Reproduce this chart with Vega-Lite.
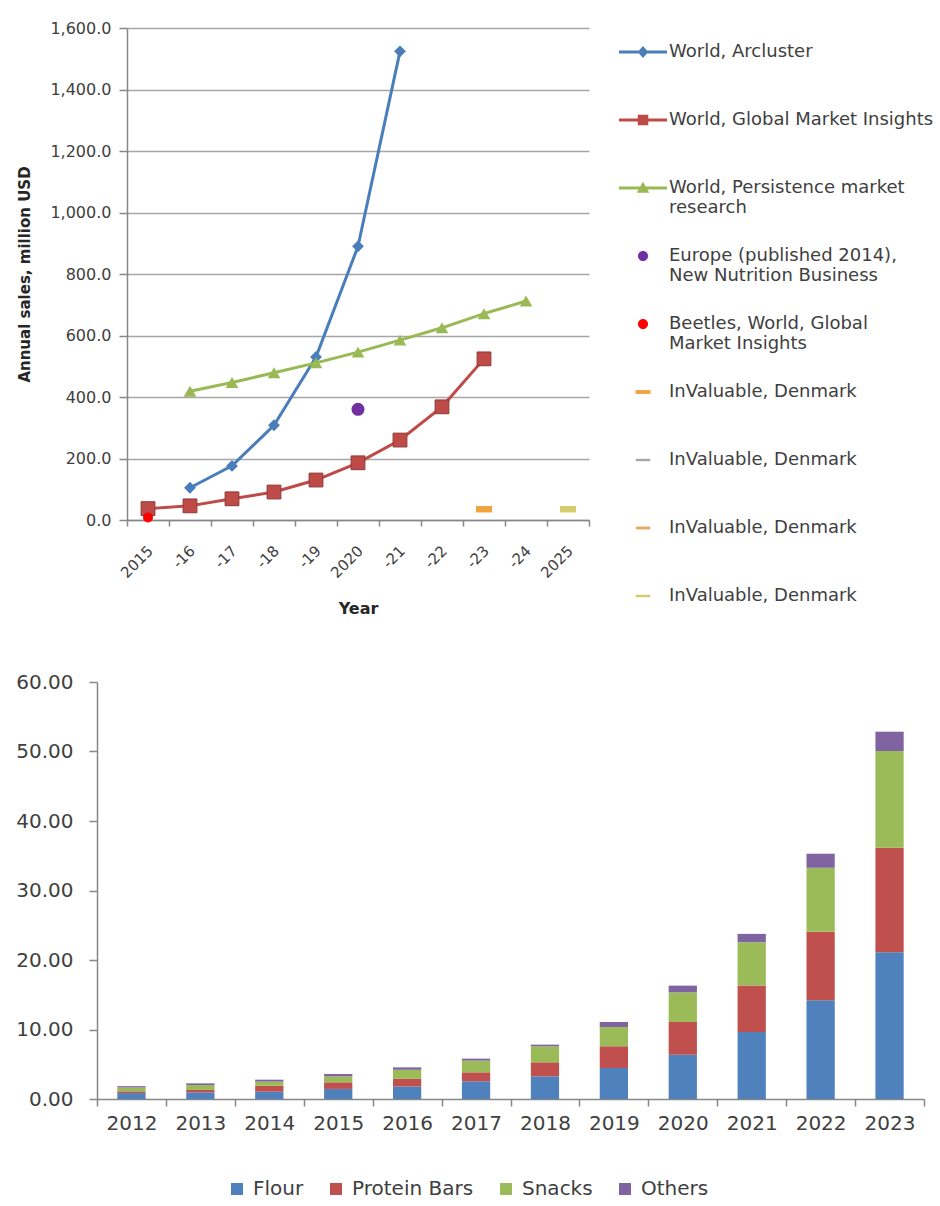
{
  "$schema": "https://vega.github.io/schema/vega-lite/v6.json",
  "padding": {"left": 15, "top": 20, "right": 5, "bottom": 5},
  "background": "white",
  "spacing": 47,
  "resolve": {
    "scale": {"color": "independent", "shape": "independent", "x": "independent", "y": "independent"},
    "legend": {"color": "independent", "shape": "independent"}
  },
  "config": {
    "font": "DejaVu Sans",
    "view": {"stroke": null},
    "axis": {"labelFont": "DejaVu Sans", "titleFont": "DejaVu Sans", "labelColor": "#404040", "titleColor": "#262626", "domainColor": "#878787", "tickColor": "#878787", "domainWidth": 1.5, "tickWidth": 1.5},
    "legend": {"labelFont": "DejaVu Sans", "labelColor": "#404040"}
  },
  "datasets": {
    "forecasts": [
      {"series": "World, Arcluster", "year": 2016, "value": 105},
      {"series": "World, Arcluster", "year": 2017, "value": 176},
      {"series": "World, Arcluster", "year": 2018, "value": 308},
      {"series": "World, Arcluster", "year": 2019, "value": 530},
      {"series": "World, Arcluster", "year": 2020, "value": 890},
      {"series": "World, Arcluster", "year": 2021, "value": 1524},
      {"series": "World, Global Market Insights", "year": 2015, "value": 37},
      {"series": "World, Global Market Insights", "year": 2016, "value": 46},
      {"series": "World, Global Market Insights", "year": 2017, "value": 69},
      {"series": "World, Global Market Insights", "year": 2018, "value": 91},
      {"series": "World, Global Market Insights", "year": 2019, "value": 130},
      {"series": "World, Global Market Insights", "year": 2020, "value": 186},
      {"series": "World, Global Market Insights", "year": 2021, "value": 260},
      {"series": "World, Global Market Insights", "year": 2022, "value": 368},
      {"series": "World, Global Market Insights", "year": 2023, "value": 524},
      {"series": "World, Persistence market research", "year": 2016, "value": 419},
      {"series": "World, Persistence market research", "year": 2017, "value": 447},
      {"series": "World, Persistence market research", "year": 2018, "value": 479},
      {"series": "World, Persistence market research", "year": 2019, "value": 511},
      {"series": "World, Persistence market research", "year": 2020, "value": 546},
      {"series": "World, Persistence market research", "year": 2021, "value": 585},
      {"series": "World, Persistence market research", "year": 2022, "value": 625},
      {"series": "World, Persistence market research", "year": 2023, "value": 671},
      {"series": "World, Persistence market research", "year": 2024, "value": 712},
      {"series": "Europe (published 2014), New Nutrition Business", "year": 2020, "value": 360},
      {"series": "Beetles, World, Global Market Insights", "year": 2015, "value": 8},
      {"series": "InValuable, Denmark", "year": 2023, "value": 35},
      {"series": "InValuable, Denmark   ", "year": 2025, "value": 35}
    ],
    "segments": [
      {"year": 2012, "product": "Flour", "value": 0.85},
      {"year": 2012, "product": "Protein Bars", "value": 0.25},
      {"year": 2012, "product": "Snacks", "value": 0.55},
      {"year": 2012, "product": "Others", "value": 0.2},
      {"year": 2013, "product": "Flour", "value": 0.95},
      {"year": 2013, "product": "Protein Bars", "value": 0.35},
      {"year": 2013, "product": "Snacks", "value": 0.7},
      {"year": 2013, "product": "Others", "value": 0.25},
      {"year": 2014, "product": "Flour", "value": 1.05},
      {"year": 2014, "product": "Protein Bars", "value": 0.85},
      {"year": 2014, "product": "Snacks", "value": 0.6},
      {"year": 2014, "product": "Others", "value": 0.28},
      {"year": 2015, "product": "Flour", "value": 1.45},
      {"year": 2015, "product": "Protein Bars", "value": 0.95},
      {"year": 2015, "product": "Snacks", "value": 0.85},
      {"year": 2015, "product": "Others", "value": 0.35},
      {"year": 2016, "product": "Flour", "value": 1.8},
      {"year": 2016, "product": "Protein Bars", "value": 1.1},
      {"year": 2016, "product": "Snacks", "value": 1.3},
      {"year": 2016, "product": "Others", "value": 0.35},
      {"year": 2017, "product": "Flour", "value": 2.54},
      {"year": 2017, "product": "Protein Bars", "value": 1.3},
      {"year": 2017, "product": "Snacks", "value": 1.68},
      {"year": 2017, "product": "Others", "value": 0.29},
      {"year": 2018, "product": "Flour", "value": 3.26},
      {"year": 2018, "product": "Protein Bars", "value": 2.02},
      {"year": 2018, "product": "Snacks", "value": 2.3},
      {"year": 2018, "product": "Others", "value": 0.24},
      {"year": 2019, "product": "Flour", "value": 4.46},
      {"year": 2019, "product": "Protein Bars", "value": 3.12},
      {"year": 2019, "product": "Snacks", "value": 2.78},
      {"year": 2019, "product": "Others", "value": 0.72},
      {"year": 2020, "product": "Flour", "value": 6.38},
      {"year": 2020, "product": "Protein Bars", "value": 4.7},
      {"year": 2020, "product": "Snacks", "value": 4.27},
      {"year": 2020, "product": "Others", "value": 0.96},
      {"year": 2021, "product": "Flour", "value": 9.65},
      {"year": 2021, "product": "Protein Bars", "value": 6.67},
      {"year": 2021, "product": "Snacks", "value": 6.24},
      {"year": 2021, "product": "Others", "value": 1.2},
      {"year": 2022, "product": "Flour", "value": 14.21},
      {"year": 2022, "product": "Protein Bars", "value": 9.84},
      {"year": 2022, "product": "Snacks", "value": 9.22},
      {"year": 2022, "product": "Others", "value": 2.02},
      {"year": 2023, "product": "Flour", "value": 21.12},
      {"year": 2023, "product": "Protein Bars", "value": 15.03},
      {"year": 2023, "product": "Snacks", "value": 13.92},
      {"year": 2023, "product": "Others", "value": 2.78}
    ]
  },
  "vconcat": [
    {
      "width": 492,
      "height": 492,
      "data": {"name": "forecasts"},
      "encoding": {
        "x": {
          "field": "year", "type": "ordinal",
          "scale": {"domain": [2015, 2016, 2017, 2018, 2019, 2020, 2021, 2022, 2023, 2024, 2025], "range": [30, 492], "paddingInner": 0, "paddingOuter": 0},
          "axis": {"title": "Year", "labelAngle": -45, "labelExpr": "isValid(datum.value) ? (datum.value % 5 == 0 ? '' + datum.value : '-' + (datum.value % 100)) : ''", "tickBand": "extent", "tickSize": 6, "labelFontSize": 15, "labelPadding": 17, "labelOffset": -3, "titleFontSize": 16, "titleFontWeight": "bold", "titlePadding": 20, "grid": false}
        },
        "y": {
          "field": "value", "type": "quantitative",
          "scale": {"domain": [0, 1600]},
          "axis": {"title": "Annual sales, million USD", "offset": -30, "values": [0, 200, 400, 600, 800, 1000, 1200, 1400, 1600], "format": ",.1f", "grid": true, "gridColor": "#A6A6A6", "gridWidth": 1.5, "tickSize": 8, "labelFontSize": 16, "labelPadding": 8, "titleFontSize": 15, "titleFontWeight": "bold", "titlePadding": 17}
        },
        "color": {"field": "series", "type": "nominal", "legend": null,
          "scale": {"domain": ["World, Arcluster", "World, Global Market Insights", "World, Persistence market research", "Europe (published 2014), New Nutrition Business", "Beetles, World, Global Market Insights", "InValuable, Denmark", "InValuable, Denmark ", "InValuable, Denmark  ", "InValuable, Denmark   "],
            "range": ["#4A7EBB", "#BE4B48", "#98B954", "#7030A0", "#FF0000", "#F0A23C", "#A5A5A5", "#E3A862", "#D6CD6A"]}}
      },
      "layer": [
        {
          "transform": [{"filter": {"field": "series", "equal": "legend only"}}],
          "mark": {"type": "point", "filled": true, "opacity": 1, "size": 2304},
          "encoding": {
            "color": {"field": "series", "type": "nominal",
              "legend": {"title": null, "orient": "right", "offset": 30, "padding": 0, "symbolSize": 2304, "symbolStrokeWidth": 0, "symbolOpacity": 1, "labelFontSize": 18, "labelLimit": 400, "labelOffset": 2, "rowPadding": 15,
                "labelExpr": "datum.value == 'World, Persistence market research' ? ['World, Persistence market', 'research'] : datum.value == 'Europe (published 2014), New Nutrition Business' ? ['Europe (published 2014),', 'New Nutrition Business'] : datum.value == 'Beetles, World, Global Market Insights' ? ['Beetles, World, Global', 'Market Insights'] : [datum.label, '']"}
            },
            "shape": {"field": "series", "type": "nominal",
              "scale": {"domain": ["World, Arcluster", "World, Global Market Insights", "World, Persistence market research", "Europe (published 2014), New Nutrition Business", "Beetles, World, Global Market Insights", "InValuable, Denmark", "InValuable, Denmark ", "InValuable, Denmark  ", "InValuable, Denmark   "],
                "range": [
                  "M-1,-1M1,1M-1,-0.06H1V0.06H-1ZM0,-0.25L0.22,0L0,0.25L-0.22,0Z",
                  "M-1,-1M1,1M-1,-0.06H1V0.06H-1ZM-0.22,-0.22H0.22V0.22H-0.22Z",
                  "M-1,-1M1,1M-1,-0.06H1V0.06H-1ZM0,-0.26L0.26,0.2H-0.26Z",
                  "M-1,-1M1,1M-0.21,0A0.21,0.21 0 1,0 0.21,0A0.21,0.21 0 1,0 -0.21,0Z",
                  "M-1,-1M1,1M-0.21,0A0.21,0.21 0 1,0 0.21,0A0.21,0.21 0 1,0 -0.21,0Z",
                  "M-1,-1M1,1M-0.31,-0.08H0.31V0.08H-0.31Z",
                  "M-1,-1M1,1M-0.3,-0.05H0.3V0.05H-0.3Z",
                  "M-1,-1M1,1M-0.3,-0.06H0.3V0.06H-0.3Z",
                  "M-1,-1M1,1M-0.3,-0.05H0.3V0.05H-0.3Z"
                ]},
              "legend": {"title": null, "orient": "right", "offset": 30, "padding": 0, "symbolSize": 2304, "symbolStrokeWidth": 0, "symbolOpacity": 1, "labelFontSize": 18, "labelLimit": 400, "labelOffset": 2, "rowPadding": 15,
                "labelExpr": "datum.value == 'World, Persistence market research' ? ['World, Persistence market', 'research'] : datum.value == 'Europe (published 2014), New Nutrition Business' ? ['Europe (published 2014),', 'New Nutrition Business'] : datum.value == 'Beetles, World, Global Market Insights' ? ['Beetles, World, Global', 'Market Insights'] : [datum.label, '']"}
            }
          }
        },
        {
          "transform": [{"filter": {"field": "series", "oneOf": ["World, Arcluster", "World, Global Market Insights", "World, Persistence market research"]}}],
          "mark": {"type": "line", "strokeWidth": 3}
        },
        {
          "transform": [{"filter": {"field": "series", "equal": "World, Arcluster"}}],
          "mark": {"type": "point", "shape": "diamond", "filled": true, "size": 140, "opacity": 1}
        },
        {
          "transform": [{"filter": {"field": "series", "equal": "World, Global Market Insights"}}],
          "mark": {"type": "point", "shape": "square", "filled": true, "size": 190, "opacity": 1, "stroke": "#8C3836", "strokeWidth": 1}
        },
        {
          "transform": [{"filter": {"field": "series", "equal": "World, Persistence market research"}}],
          "mark": {"type": "point", "shape": "triangle-up", "filled": true, "size": 160, "opacity": 1}
        },
        {
          "transform": [{"filter": {"field": "series", "equal": "Europe (published 2014), New Nutrition Business"}}],
          "mark": {"type": "point", "shape": "circle", "filled": true, "size": 170, "opacity": 1}
        },
        {
          "transform": [{"filter": {"field": "series", "equal": "Beetles, World, Global Market Insights"}}],
          "mark": {"type": "point", "shape": "circle", "filled": true, "size": 100, "opacity": 1}
        },
        {
          "transform": [{"filter": {"field": "series", "oneOf": ["InValuable, Denmark", "InValuable, Denmark ", "InValuable, Denmark  ", "InValuable, Denmark   "]}}],
          "mark": {"type": "point", "shape": "M-1,-0.4H1V0.4H-1Z", "filled": true, "size": 256, "opacity": 1}
        }
      ]
    },
    {
      "width": 827,
      "height": 417,
      "data": {"name": "segments"},
      "transform": [{"window": [{"op": "row_number", "as": "stackRank"}], "groupby": ["year"]}],
      "mark": {"type": "bar", "width": {"band": 0.41}},
      "encoding": {
        "x": {
          "field": "year", "type": "ordinal",
          "scale": {"paddingInner": 0, "paddingOuter": 0},
          "axis": {"title": null, "labelAngle": 0, "tickBand": "extent", "tickSize": 7, "labelFontSize": 20, "labelPadding": 7, "grid": false}
        },
        "y": {
          "field": "value", "type": "quantitative", "stack": "zero",
          "scale": {"domain": [0, 60]},
          "axis": {"title": null, "values": [0, 10, 20, 30, 40, 50, 60], "format": ".2f", "grid": false, "tickSize": 8, "labelFontSize": 20, "labelPadding": 16}
        },
        "order": {"field": "stackRank", "type": "quantitative", "sort": "ascending"},
        "color": {
          "field": "product", "type": "nominal",
          "sort": ["Flour", "Protein Bars", "Snacks", "Others"],
          "scale": {"domain": ["Flour", "Protein Bars", "Snacks", "Others"], "range": ["#4F81BD", "#C0504D", "#9BBB59", "#8064A2"]},
          "legend": {"title": null, "orient": "none", "legendX": 130, "legendY": 497, "direction": "horizontal", "columns": 4, "symbolType": "square", "symbolSize": 144, "symbolStrokeWidth": 0, "labelFontSize": 20, "labelOffset": 6, "columnPadding": 22}
        }
      }
    }
  ]
}
